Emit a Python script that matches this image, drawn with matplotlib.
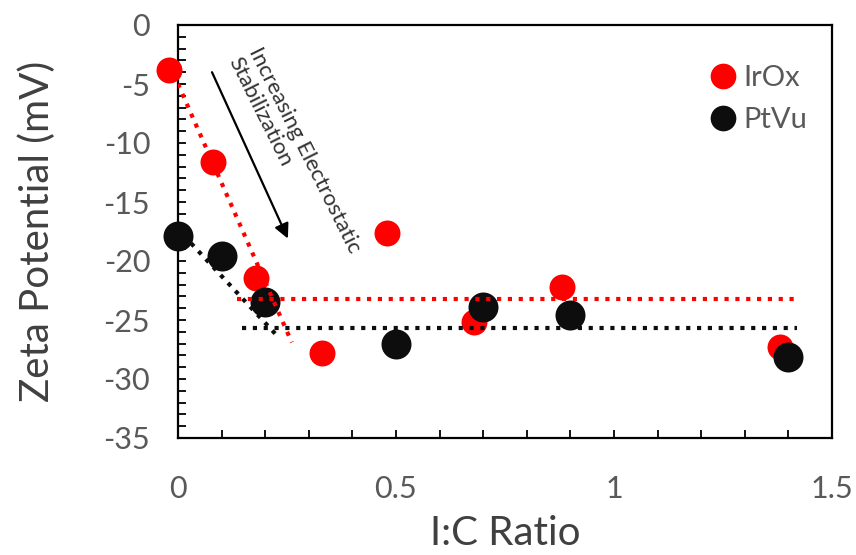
import matplotlib
matplotlib.use("Agg")
import matplotlib.pyplot as plt
from matplotlib.lines import Line2D
from matplotlib.ticker import MultipleLocator

plt.rcParams['font.family'] = ['Lato', 'DejaVu Sans']

# Data
irox_x = [-0.02, 0.08, 0.18, 0.33, 0.48, 0.68, 0.88, 1.38]
irox_y = [-3.8, -11.6, -21.4, -27.8, -17.6, -25.2, -22.2, -27.3]
ptvu_x = [0.0, 0.1, 0.2, 0.5, 0.7, 0.9, 1.4]
ptvu_y = [-17.9, -19.6, -23.5, -27.0, -23.9, -24.6, -28.1]

# trend lines (endpoints)
irox_slope_x = [0.0, 0.261]
irox_slope_y = [-5.0, -26.9]
irox_flat_x = [0.135, 1.415]
irox_flat_y = [-23.2, -23.2]
ptvu_slope_x = [0.03, 0.229]
ptvu_slope_y = [-18.5, -26.4]
ptvu_flat_x = [0.147, 1.42]
ptvu_flat_y = [-25.65, -25.65]

x_ticks = [0, 0.5, 1, 1.5]
x_ticklabels = ['0', '0.5', '1', '1.5']
y_ticks = [0, -5, -10, -15, -20, -25, -30, -35]
y_ticklabels = ['0', '-5', '-10', '-15', '-20', '-25', '-30', '-35']

RED = '#ff0000'
BLACK = '#0d0d0d'
GRAY = '#595959'

fig = plt.figure(figsize=(8.56, 5.55), dpi=100)
ax = fig.add_axes([178/856, 1-438/555, (832-178)/856, (438-25)/555])

ax.plot(irox_x, irox_y, 'o', color=RED, markersize=18.7, markeredgewidth=0, clip_on=False, zorder=3)
ax.plot(ptvu_x, ptvu_y, 'o', color=BLACK, markersize=21.6, markeredgewidth=0, clip_on=False, zorder=4)

dot = (0, (1, 1.6))
for xs, ys, c in [(irox_slope_x, irox_slope_y, RED), (irox_flat_x, irox_flat_y, RED),
                  (ptvu_slope_x, ptvu_slope_y, BLACK), (ptvu_flat_x, ptvu_flat_y, BLACK)]:
    ax.plot(xs, ys, color=c, lw=3, linestyle=dot, dash_capstyle='butt', zorder=5)

ax.annotate('', xy=(0.252, -18.1), xytext=(0.078, -4.0),
            arrowprops=dict(arrowstyle='-|>', color='black', lw=1.6, mutation_scale=22,
                            shrinkA=0, shrinkB=0), zorder=6)
ax.text(0.195, -1.6, 'Increasing Electrostatic\nStabilization', rotation=-63.5,
        rotation_mode='anchor', ha='left', va='top', fontsize=16, color='#333333',
        linespacing=1.2, transform=ax.transData)

ax.set_xlim(0, 1.5)
ax.set_ylim(-35, 0)
ax.set_xticks(x_ticks)
ax.set_xticklabels(x_ticklabels)
ax.set_yticks(y_ticks)
ax.set_yticklabels(y_ticklabels)
ax.xaxis.set_minor_locator(MultipleLocator(0.1))
ax.yaxis.set_minor_locator(MultipleLocator(1))
ax.tick_params(which='both', direction='in', length=6, width=1.3, color='black',
               top=False, right=False)
ax.tick_params(axis='x', which='major', pad=27, labelsize=22, labelcolor=GRAY)
ax.tick_params(axis='y', which='major', pad=20, labelsize=22, labelcolor=GRAY)
for s in ax.spines.values():
    s.set_linewidth(1.6)
    s.set_color('black')

ax.set_xlabel('I:C Ratio', fontsize=29, color='#404040', labelpad=8)
ax.set_ylabel('Zeta Potential (mV)', fontsize=29, color='#404040', labelpad=34)

handles = [Line2D([], [], marker='o', ls='', color=RED, markersize=18.5, markeredgewidth=0),
           Line2D([], [], marker='o', ls='', color=BLACK, markersize=18.5, markeredgewidth=0)]
leg = ax.legend(handles, ['IrOx', 'PtVu'], loc='upper left', bbox_to_anchor=(0.806, 0.903),
                frameon=False, fontsize=21, handletextpad=0.1, labelspacing=0.55,
                handlelength=1.2, borderaxespad=0, borderpad=0)
for t in leg.get_texts():
    t.set_color(GRAY)

fig.savefig('out.png', dpi=100)
